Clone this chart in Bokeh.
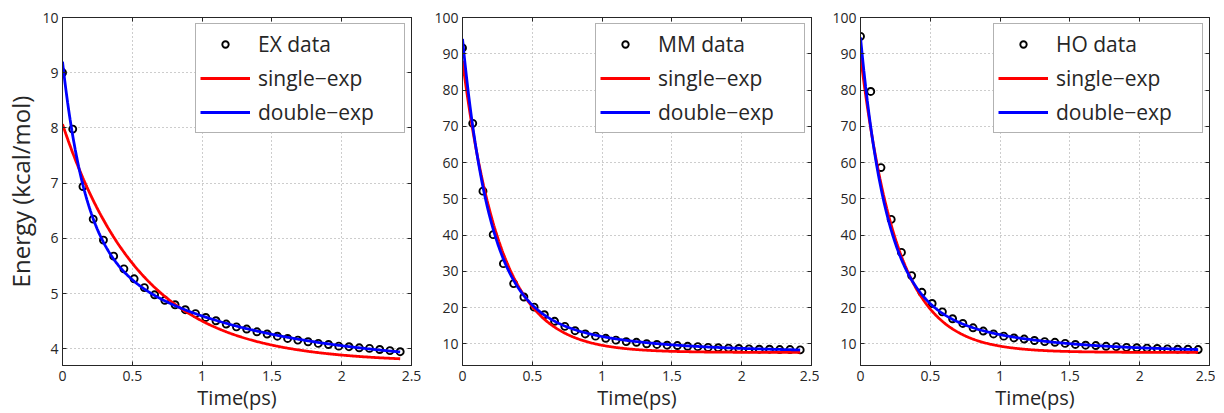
import numpy as np
from bokeh.plotting import figure
from bokeh.layouts import row
from bokeh.models import Range1d, FixedTicker, LinearAxis, Legend, LegendItem
from bokeh.embed import file_html
from bokeh.resources import INLINE

# ---- data ----
time_ps = [0.0, 0.0733, 0.1466, 0.2199, 0.2932, 0.3665, 0.4398, 0.5131, 0.5864,
           0.6597, 0.7330, 0.8063, 0.8796, 0.9529, 1.0262, 1.0995, 1.1728, 1.2461,
           1.3194, 1.3927, 1.4660, 1.5393, 1.6126, 1.6859, 1.7592, 1.8325, 1.9058,
           1.9791, 2.0524, 2.1257, 2.1990, 2.2723, 2.3456, 2.4189]

ex_data = [9.00, 7.98, 6.94, 6.35, 5.97, 5.68, 5.45, 5.27, 5.11, 4.98, 4.88, 4.80,
           4.71, 4.64, 4.57, 4.51, 4.45, 4.40, 4.36, 4.31, 4.27, 4.23, 4.19, 4.16,
           4.13, 4.10, 4.08, 4.05, 4.04, 4.02, 4.01, 3.99, 3.97, 3.95]
mm_data = [91.6, 70.8, 52.1, 40.1, 32.1, 26.6, 22.9, 20.1, 18.0, 16.2, 14.8, 13.6,
           12.7, 12.1, 11.5, 11.0, 10.6, 10.4, 10.0, 9.8, 9.6, 9.5, 9.3, 9.2,
           9.0, 8.9, 8.8, 8.7, 8.6, 8.5, 8.5, 8.4, 8.4, 8.3]
ho_data = [94.8, 79.6, 58.6, 44.3, 35.2, 28.8, 24.2, 21.1, 18.8, 16.9, 15.6, 14.4,
           13.5, 12.7, 12.1, 11.6, 11.3, 10.9, 10.6, 10.4, 10.1, 9.8, 9.6, 9.5,
           9.3, 9.2, 9.0, 8.9, 8.8, 8.7, 8.6, 8.5, 8.5, 8.4]

# fitted curves: single = [offset, amplitude, tau]; double = [offset, a1, tau1, a2, tau2]
ex_single_fit = [3.76, 4.31, 0.57]
ex_double_fit = [3.70, 3.29, 0.162, 2.21, 1.10]
mm_single_fit = [7.6, 80.5, 0.27]
mm_double_fit = [7.8, 70.3, 0.19, 16.0, 0.70]
ho_single_fit = [7.6, 81.9, 0.26]
ho_double_fit = [7.8, 68.5, 0.18, 18.2, 0.71]

data_labels = ["EX data", "MM data", "HO data"]
fit_labels = ["single\u2212exp", "double\u2212exp"]
x_title = "Time(ps)"
y_title = "Energy (kcal/mol)"
x_ticks = [0, 0.5, 1, 1.5, 2, 2.5]
x_tick_labels = ["0", "0.5", "1", "1.5", "2", "2.5"]
ex_y_ticks = [4, 5, 6, 7, 8, 9, 10]
mm_ho_y_ticks = [10, 20, 30, 40, 50, 60, 70, 80, 90, 100]

FONT = "Open Sans"
TXT = "#262626"


def single_exp(t, p):
    return p[0] + p[1] * np.exp(-t / p[2])


def double_exp(t, p):
    return p[0] + p[1] * np.exp(-t / p[2]) + p[3] * np.exp(-t / p[4])


t_fit = np.linspace(0, time_ps[-1], 400)


def panel(dlabel, data, sfit, dfit, yr, yticks, width, mbl, mbr, with_ylabel):
    p = figure(width=width, height=413, x_range=Range1d(0, 2.5), y_range=Range1d(*yr),
               output_backend="svg", toolbar_location=None,
               min_border_left=mbl, min_border_right=mbr,
               min_border_top=17, min_border_bottom=46)
    p.background_fill_color = "white"
    p.border_fill_color = "white"
    p.outline_line_color = TXT
    p.outline_line_width = 1
    p.outline_line_alpha = 1

    xt = FixedTicker(ticks=x_ticks)
    yt = FixedTicker(ticks=yticks)
    p.xaxis.ticker = xt
    p.yaxis.ticker = yt
    p.xgrid.ticker = xt
    p.ygrid.ticker = yt
    p.xaxis.major_label_overrides = {t: s for t, s in zip(x_ticks, x_tick_labels)}
    for ax in (p.xaxis[0], p.yaxis[0]):
        ax.major_tick_in = 4
        ax.major_tick_out = 0
        ax.minor_tick_line_color = None
        ax.axis_line_color = TXT
        ax.major_tick_line_color = TXT
        ax.major_label_text_font = FONT
        ax.major_label_text_font_size = "14px"
        ax.major_label_text_color = TXT
        ax.axis_label_text_font = FONT
        ax.axis_label_text_font_style = "normal"
        ax.axis_label_text_color = TXT
    p.xaxis.major_label_standoff = 5
    p.yaxis.major_label_standoff = 4
    p.xaxis.axis_label = x_title
    p.xaxis.axis_label_text_font_size = "20px"
    p.xaxis.axis_label_standoff = 0
    if with_ylabel:
        p.yaxis.axis_label = y_title
        p.yaxis.axis_label_text_font_size = "24px"
        p.yaxis.axis_label_standoff = 2

    for loc, tk in (("above", x_ticks), ("right", yticks)):
        ax = LinearAxis(ticker=FixedTicker(ticks=tk),
                        major_label_overrides={t: "" for t in tk},
                        major_label_text_font_size="1px",
                        major_label_standoff=0, major_tick_in=4, major_tick_out=0,
                        minor_tick_line_color=None, axis_line_color=TXT,
                        major_tick_line_color=TXT)
        p.add_layout(ax, loc)

    for g in (p.xgrid[0], p.ygrid[0]):
        g.grid_line_color = "#9a9a9a"
        g.grid_line_dash = "1 3"
        g.grid_line_width = 1

    r_data = p.scatter(time_ps, data, marker="circle", size=7, fill_color=None,
                       line_color="black", line_width=1.9)
    r_single = p.line(t_fit, single_exp(t_fit, sfit), line_color="#ff0000", line_width=2.8)
    r_double = p.line(t_fit, double_exp(t_fit, dfit), line_color="#0000ff", line_width=2.8)

    legend = Legend(items=[LegendItem(label=dlabel, renderers=[r_data]),
                           LegendItem(label=fit_labels[0], renderers=[r_single]),
                           LegendItem(label=fit_labels[1], renderers=[r_double])],
                    location="top_right", margin=6, padding=4, spacing=2,
                    glyph_width=50, glyph_height=16, label_height=32, label_width=142,
                    label_standoff=8, label_text_font=FONT, label_text_font_size="21px",
                    label_text_color=TXT, border_line_color="#666666", border_line_width=1,
                    background_fill_color="white", background_fill_alpha=1)
    p.add_layout(legend)
    return p


f1 = panel(data_labels[0], ex_data, ex_single_fit, ex_double_fit, (3.7, 10), ex_y_ticks,
           421, 62, 10, True)
f2 = panel(data_labels[1], mm_data, mm_single_fit, mm_double_fit, (4, 100), mm_ho_y_ticks,
           398, 41, 8, False)
f3 = panel(data_labels[2], ho_data, ho_single_fit, ho_double_fit, (4, 100), mm_ho_y_ticks,
           396, 41, 6, False)

layout = row(f1, f2, f3)
open("out.html", "w").write(file_html(layout, INLINE))
